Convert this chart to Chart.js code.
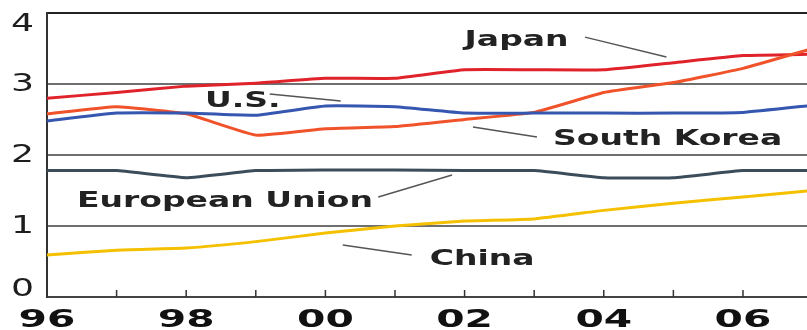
<!DOCTYPE html>
<html>
<head>
<meta charset="utf-8">
<script src="https://cdn.jsdelivr.net/npm/chart.js@4/dist/chart.umd.min.js"></script>
<style>
  html, body { margin: 0; padding: 0; background: #ffffff; }
  #wrap { width: 807px; height: 330px; position: relative; }
</style>
</head>
<body>
<div id="wrap"><canvas id="c" width="807" height="330"></canvas></div>
<script>
// Years on the x axis and one value series per economy
const years = [1996, 1997, 1998, 1999, 2000, 2001, 2002, 2003, 2004, 2005, 2006, 2007];
const japan = [2.80, 2.88, 2.97, 3.01, 3.08, 3.08, 3.20, 3.20, 3.20, 3.30, 3.40, 3.42];
const southKorea = [2.58, 2.68, 2.58, 2.28, 2.37, 2.40, 2.50, 2.60, 2.88, 3.02, 3.22, 3.50];
const us = [2.48, 2.59, 2.59, 2.56, 2.69, 2.68, 2.59, 2.59, 2.59, 2.59, 2.60, 2.70];
const eu = [1.78, 1.78, 1.68, 1.78, 1.79, 1.79, 1.78, 1.78, 1.68, 1.68, 1.78, 1.78];
const china = [0.59, 0.66, 0.69, 0.78, 0.90, 1.00, 1.07, 1.10, 1.22, 1.32, 1.41, 1.50];

// Tick values
const yTicks = [0, 1, 2, 3, 4];
const xLabelYears = [1996, 1998, 2000, 2002, 2004, 2006];

// Series names as drawn on the chart, with where each name and its leader line sit
const seriesNames = ['Japan', 'U.S.', 'South Korea', 'European Union', 'China'];
const nameSpots = [
  { x: 2002.0, y: 3.535, lead: [2003.73, 3.66, 2004.9, 3.38] },
  { x: 1998.27, y: 2.676, lead: [1999.2, 2.86, 2000.22, 2.76] },
  { x: 2003.27, y: 2.14, lead: [2002.12, 2.394, 2003.04, 2.254] },
  { x: 1996.43, y: 1.268, lead: [2000.76, 1.408, 2001.82, 1.718] },
  { x: 2001.5, y: 0.45, lead: [2000.25, 0.732, 2001.24, 0.59] }
];

const pts = arr => years.map((yr, i) => ({ x: yr, y: arr[i] }));

const line = (label, arr, color) => ({
  label,
  data: pts(arr),
  borderColor: color,
  backgroundColor: color,
  borderWidth: 3,
  pointRadius: 0,
  tension: 0.12,
  fill: false
});

// Wide lettering: draw text stretched horizontally
function wideText(ctx, text, x, y, sx, align) {
  ctx.save();
  ctx.translate(x, y);
  ctx.scale(sx, 1);
  ctx.textAlign = align;
  ctx.fillText(text, 0, 0);
  ctx.restore();
}

const decorations = {
  id: 'decorations',
  afterDraw(chart) {
    const { ctx, chartArea } = chart;
    const xs = chart.scales.x, ys = chart.scales.y;

    // inward tick marks along the bottom axis, one per year
    ctx.save();
    ctx.strokeStyle = '#333';
    ctx.lineWidth = 1.5;
    for (let yr = 1997; yr <= 2006; yr++) {
      const px = xs.getPixelForValue(yr);
      ctx.beginPath();
      ctx.moveTo(px, chartArea.bottom);
      ctx.lineTo(px, chartArea.bottom - 7);
      ctx.stroke();
    }
    ctx.restore();

    // y tick labels
    ctx.save();
    ctx.fillStyle = '#1e1e1e';
    ctx.font = '25px "DejaVu Sans"';
    ctx.textBaseline = 'middle';
    yTicks.forEach(v => {
      let py = ys.getPixelForValue(v);
      py = Math.min(Math.max(py, chartArea.top + 11), chartArea.bottom - 8);
      wideText(ctx, String(v), 34, py, 1.45, 'right');
    });
    ctx.restore();

    // x tick labels
    ctx.save();
    ctx.fillStyle = '#111';
    ctx.font = 'bold 24px "DejaVu Sans"';
    ctx.textBaseline = 'alphabetic';
    xLabelYears.forEach(yr => {
      const px = xs.getPixelForValue(yr);
      const txt = String(yr % 100).padStart(2, '0');
      wideText(ctx, txt, px, 327, 1.7, 'center');
    });
    ctx.restore();

    // series names with leader lines
    ctx.save();
    ctx.fillStyle = '#222';
    ctx.strokeStyle = '#555';
    ctx.lineWidth = 1.5;
    ctx.font = 'bold 22px "DejaVu Sans"';
    ctx.textBaseline = 'alphabetic';
    seriesNames.forEach((name, i) => {
      const s = nameSpots[i];
      wideText(ctx, name, xs.getPixelForValue(s.x), ys.getPixelForValue(s.y), 1.5, 'left');
      const [x1, y1, x2, y2] = s.lead;
      ctx.beginPath();
      ctx.moveTo(xs.getPixelForValue(x1), ys.getPixelForValue(y1));
      ctx.lineTo(xs.getPixelForValue(x2), ys.getPixelForValue(y2));
      ctx.stroke();
    });
    ctx.restore();
  }
};

new Chart(document.getElementById('c'), {
  type: 'line',
  data: {
    datasets: [
      line('European Union', eu, '#3b4d5a'),
      line('China', china, '#f5c000'),
      line('U.S.', us, '#3657b0'),
      line('South Korea', southKorea, '#f0522a'),
      line('Japan', japan, '#e0222a')
    ]
  },
  options: {
    responsive: false,
    animation: false,
    layout: { padding: { left: 47, top: 13, right: 0, bottom: 33 } },
    plugins: { legend: { display: false }, tooltip: { enabled: false } },
    scales: {
      x: {
        type: 'linear',
        min: 1996,
        max: 2006.92,
        ticks: { display: false, stepSize: 1 },
        grid: { display: false, drawTicks: false },
        border: { display: true, color: '#444', width: 2 }
      },
      y: {
        min: 0,
        max: 4,
        ticks: { display: false, stepSize: 1 },
        grid: {
          drawTicks: false,
          lineWidth: 2,
          color: c => (c.tick && c.tick.value === 4) ? '#222' : '#6f6f6f'
        },
        border: { display: true, color: '#333', width: 2 }
      }
    }
  },
  plugins: [decorations]
});
</script>
</body>
</html>
